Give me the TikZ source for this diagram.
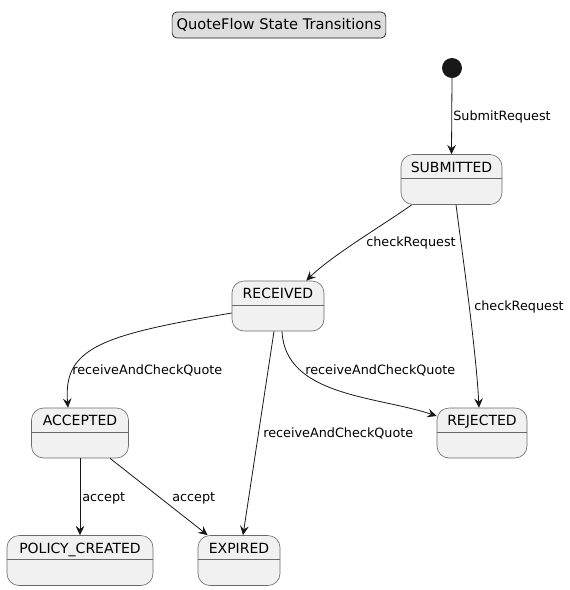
\documentclass[tikz,border=0pt]{standalone}
\usepackage{fontspec}
\setmainfont{DejaVu Sans}
\usetikzlibrary{arrows.meta}
\definecolor{statefill}{HTML}{F1F1F1}
\definecolor{titlefill}{HTML}{DDDDDD}
\definecolor{umlline}{HTML}{181818}

\begin{document}
\begin{tikzpicture}[x=0.75pt, y=-0.75pt,
    state/.style={draw=umlline!65, line width=0.45pt, fill=statefill, rounded corners=9pt, minimum height=37.5pt},
    statename/.style={font=\fontsize{10.5}{12}\selectfont, anchor=base, inner sep=0pt},
    trans/.style={draw=umlline, line width=0.6pt, -{Stealth[length=7pt, width=6.5pt, inset=2.5pt]}},
    translabel/.style={font=\fontsize{9.6}{11}\selectfont, anchor=base west, inner sep=0pt}]
    \useasboundingbox (0, 0) rectangle (570, 590);
    % title
    \node[draw=umlline, line width=0.5pt, fill=titlefill, rounded corners=3.5pt, minimum width=159pt, minimum height=19.5pt, font=\fontsize{11}{12}\selectfont](title) at (279, 25){QuoteFlow State Transitions};
    % states
    \fill[umlline](452, 68) circle (7.5pt);
    \coordinate (init) at (452, 68);
    \node[state, minimum width=75.75pt](sub) at (451.5, 179.5){};
    \node[state, minimum width=69pt](rec) at (278, 306){};
    \node[state, minimum width=72.75pt](acc) at (80, 433){};
    \node[state, minimum width=67.5pt](rej) at (482, 433){};
    \node[state, minimum width=109.5pt](pol) at (80, 560.5){};
    \node[state, minimum width=61.5pt](exp) at (239, 560.5){};
    \foreach \s/\t in {sub/SUBMITTED, rec/RECEIVED, acc/ACCEPTED, rej/REJECTED, pol/POLICY\_CREATED, exp/EXPIRED}{
        \draw[umlline!65, line width=0.45pt]([yshift=0.75pt]\s.west) -- ([yshift=0.75pt]\s.east);
        \node[statename](\s name) at ([yshift=-13.5pt]\s.north){\t};
    }
    % transitions
    \draw[trans]([yshift=-7.5pt]init) -- (sub.north);
    \draw[trans]([xshift=8.25pt]sub.south west) .. controls +(-25, 18) and +(25, -25) .. ([xshift=-13.5pt]rec.north east);
    \draw[trans]([xshift=3.4pt]sub.south) .. controls +(5, 40) and +(-3, -60) .. ([xshift=-2.25pt]rej.north);
    \draw[trans]([yshift=-5.25pt]rec.west) .. controls +(-130, 22) and +(-5, -60) .. ([xshift=-9pt]acc.north);
    \draw[trans]([xshift=3pt]rec.south) .. controls +(3, 65) and +(-60, -20) .. ([yshift=12.75pt]rej.west);
    \draw[trans]([xshift=-3pt]rec.south) -- ([xshift=3pt]exp.north);
    \draw[trans](acc.south) -- (pol.north);
    \draw[trans]([xshift=22.5pt]acc.south) -- ([xshift=7.5pt]exp.north west);
    % labels
    \node[translabel](l1) at (453, 120.5){SubmitRequest};
    \node[translabel](l2) at (366, 246.5){checkRequest};
    \node[translabel](l3) at (474, 310.5){checkRequest};
    \node[translabel](l4) at (72, 374){receiveAndCheckQuote};
    \node[translabel](l5) at (305, 374){receiveAndCheckQuote};
    \node[translabel](l6) at (263, 437.5){receiveAndCheckQuote};
    \node[translabel](l7) at (82, 501.5){accept};
    \node[translabel](l8) at (172, 501.5){accept};
\end{tikzpicture}
\end{document}
